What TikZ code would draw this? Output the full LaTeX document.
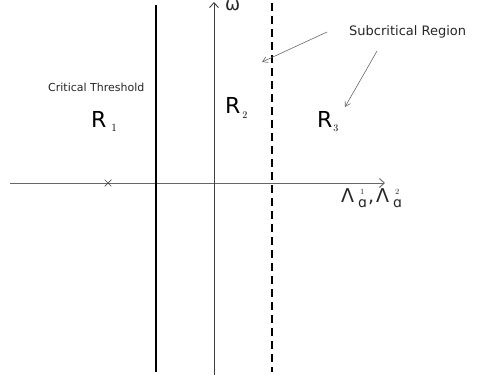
\documentclass[tikz,border=0pt]{standalone}
\usepackage{fontspec}
\setmainfont{DejaVu Sans}
\usetikzlibrary{arrows.meta,shapes.misc}
\newcommand{\fsz}[1]{\fontsize{#1}{#1}\selectfont}
\begin{document}
\begin{tikzpicture}[x=1pt,y=-1pt,
  axisline/.style={draw=black!60, line width=0.9pt},
  axistip/.style={-{Straight Barb[length=5pt,width=9pt,line width=0.9pt]}},
  thickline/.style={draw=black, line width=2.4pt},
  dashline/.style={draw=black, line width=2.4pt, dash pattern=on 8pt off 5pt},
  pointer/.style={draw=black!60, line width=0.6pt, -{Straight Barb[length=5pt,width=6pt,line width=0.6pt]}},
  lbl/.style={inner sep=0pt, anchor=base west, text=black!85},
  rlbl/.style={inner sep=0pt, anchor=base west, font=\fsz{22}}]
\useasboundingbox (0,0) rectangle (479,381);
% axes
\coordinate (hl) at (10,183);
\coordinate (hr) at (385,183);
\coordinate (vb) at (214,375);
\coordinate (vt) at (214,2);
\draw[axisline,axistip] (hl) -- (hr);
\draw[axisline,axistip,draw=black!75] (vb) -- (vt);
% threshold lines
\coordinate (ct) at (156,5);
\coordinate (cb) at (156,372);
\coordinate (st) at (272,3);
\coordinate (sb) at (272,372);
\draw[thickline] (ct) -- (cb);
\draw[dashline] (st) -- (sb);
% pole
\node[cross out, draw=black!70, line width=0.7pt, minimum size=6pt, inner sep=0pt] (pole) at (108,183) {};
% labels
\node[lbl, font=\fsz{18}] (omega) at (225,10) {ω};
\node[lbl, font=\fsz{11}] (crit) at (48,91) {Critical Threshold};
\node[lbl, font=\fsz{13}] (sub) at (349,35) {Subcritical Region};
\node[rlbl] (r1) at (91,127) {R\kern5pt\raisebox{-4pt}{\fsz{11}$1$}};
\node[rlbl] (r2) at (225,113) {R\kern2pt\raisebox{-5pt}{\fsz{10}$2$}};
\node[rlbl] (r3) at (317,127) {R\kern1pt\raisebox{-4pt}{\fsz{10}$3$}};
\node[lbl, font=\fsz{19}] (lam) at (341,202)
  {Λ\kern4pt\makebox[0pt][l]{\kern2pt\raisebox{8pt}{\fsz{8}$1$}}\raisebox{-5pt}{\fsz{14}ɑ}\kern1pt,\kern2ptΛ\kern4pt\makebox[0pt][l]{\kern2pt\raisebox{8pt}{\fsz{8}$2$}}\raisebox{-5pt}{\fsz{14}ɑ}};
% pointers
\coordinate (p1s) at (327,32);
\coordinate (p1e) at (262,62);
\coordinate (p2s) at (377,51);
\coordinate (p2e) at (345,107);
\draw[pointer] (p1s) -- (p1e);
\draw[pointer] (p2s) -- (p2e);
\end{tikzpicture}
\end{document}
